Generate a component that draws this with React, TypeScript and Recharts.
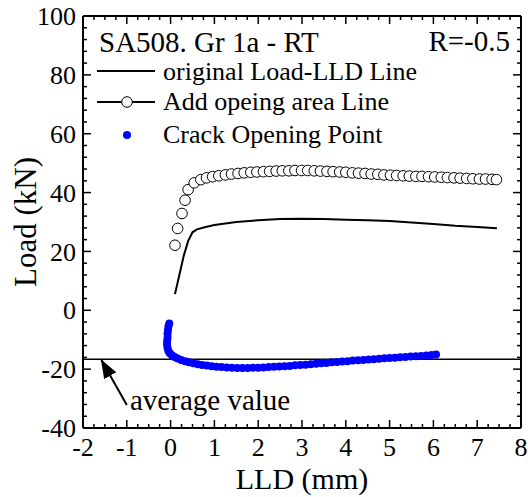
import { ComposedChart, ReferenceLine, Scatter, XAxis, YAxis } from 'recharts'

const FONT = '"Liberation Serif", "Times New Roman", serif'

// original Load-LLD line
const LINE_X = [0.1, 0.2, 0.3, 0.4, 0.5, 0.6, 0.8, 1.0, 1.5, 2.0, 2.5, 3.0, 3.5, 4.0, 4.5, 5.0, 5.5, 6.0, 6.5, 7.0, 7.45]
const LINE_Y = [5.5, 12, 18.5, 23.5, 26.5, 27.5, 28.3, 29, 30, 30.6, 31, 31.1, 31, 30.8, 30.6, 30.3, 29.8, 29.3, 28.7, 28.3, 27.9]

// add opening area line (open circles)
const OPEN_X = [
  0.1, 0.16, 0.26, 0.33, 0.4, 0.54, 0.69, 0.82,
  0.96, 1.1, 1.25, 1.39, 1.54, 1.68, 1.83, 1.97, 2.12, 2.26,
  2.41, 2.55, 2.7, 2.84, 2.99, 3.13, 3.28, 3.42, 3.57, 3.71,
  3.86, 4.0, 4.15, 4.29, 4.44, 4.58, 4.73, 4.87, 5.02, 5.16,
  5.31, 5.45, 5.6, 5.74, 5.89, 6.03, 6.18, 6.32, 6.47, 6.61,
  6.76, 6.9, 7.05, 7.19, 7.34, 7.44,
]
const OPEN_Y = [
  22.1, 27.8, 32.9, 37.4, 41.0, 43.3, 44.4, 45.0,
  45.4, 45.7, 46.0, 46.3, 46.5, 46.7, 46.9, 47.0, 47.1, 47.2,
  47.3, 47.4, 47.4, 47.5, 47.5, 47.5, 47.4, 47.3, 47.2, 47.1,
  47.0, 46.9, 46.7, 46.6, 46.5, 46.3, 46.2, 46.0, 45.9, 45.8,
  45.7, 45.6, 45.5, 45.5, 45.4, 45.3, 45.2, 45.1, 45.0, 44.9,
  44.8, 44.7, 44.6, 44.6, 44.5, 44.4,
]

// crack opening points
const CRACK_X = [
  -0.03, -0.05, -0.06, -0.07, -0.07, -0.08, -0.08, -0.07, -0.05, -0.02,
  0.03, 0.09, 0.16, 0.24, 0.33, 0.42, 0.52, 0.62, 0.72, 0.83,
  0.94, 1.05, 1.16, 1.28, 1.4, 1.52, 1.64, 1.76, 1.88, 2.0,
  2.12, 2.24, 2.36, 2.48, 2.6, 2.72, 2.84, 2.96, 3.08, 3.2,
  3.32, 3.44, 3.56, 3.68, 3.8, 3.92, 4.04, 4.16, 4.28, 4.4,
  4.52, 4.64, 4.76, 4.88, 5.0, 5.12, 5.24, 5.36, 5.48, 5.6,
  5.72, 5.84, 5.96, 6.06,
]
const CRACK_Y = [
  -4.5, -5.5, -6.8, -8.0, -9.3, -10.5, -11.7, -12.8, -13.8, -14.6,
  -15.3, -15.9, -16.4, -16.9, -17.3, -17.7, -18.0, -18.3, -18.6, -18.8,
  -19.0, -19.2, -19.3, -19.4, -19.5, -19.6, -19.6, -19.6, -19.5, -19.5,
  -19.4, -19.3, -19.2, -19.1, -19.0, -18.9, -18.7, -18.6, -18.5, -18.3,
  -18.2, -18.0, -17.9, -17.7, -17.6, -17.4, -17.3, -17.1, -17.0, -16.9,
  -16.7, -16.6, -16.5, -16.3, -16.2, -16.1, -16.0, -15.9, -15.7, -15.6,
  -15.5, -15.4, -15.2, -15.0,
]

const AVERAGE = -16.6

const X_DOMAIN = [-2, 8]
const Y_DOMAIN = [-40, 100]
// minor ticks every 0.25 on x, every 4 on y; labels on the integers / multiples of 20
const X_TICKS = Array.from({ length: 41 }, (_, i) => -2 + i * 0.25)
const Y_TICKS = Array.from({ length: 36 }, (_, i) => -40 + i * 4)

const lineData = LINE_X.map((x, i) => ({ x, y: LINE_Y[i] }))
const openData = OPEN_X.map((x, i) => ({ x, y: OPEN_Y[i] }))
const crackData = CRACK_X.map((x, i) => ({ x, y: CRACK_Y[i] }))

const isMajorX = (v: number) => Number.isInteger(v)
const isMajorY = (v: number) => v % 20 === 0

function BottomTick({ x, y, payload }: any) {
  const v = payload.value
  const major = isMajorX(v)
  return (
    <g>
      <line x1={x} y1={y} x2={x} y2={y - (major ? 8 : 4)} stroke="#000" strokeWidth={1.5} />
      {major && (
        <text x={x} y={y + 28} textAnchor="middle" fontSize={26} fontFamily={FONT} fill="#000">
          {v}
        </text>
      )}
    </g>
  )
}

function TopTick({ x, y, payload }: any) {
  const major = isMajorX(payload.value)
  return <line x1={x} y1={y} x2={x} y2={y + (major ? 8 : 4)} stroke="#000" strokeWidth={1.5} />
}

function LeftTick({ x, y, payload }: any) {
  const v = payload.value
  const major = isMajorY(v)
  return (
    <g>
      <line x1={x} y1={y} x2={x + (major ? 8 : 4)} y2={y} stroke="#000" strokeWidth={1.5} />
      {major && (
        <text x={x - 7} y={y} dy="0.35em" textAnchor="end" fontSize={26} fontFamily={FONT} fill="#000">
          {v}
        </text>
      )}
    </g>
  )
}

function RightTick({ x, y, payload }: any) {
  const major = isMajorY(payload.value)
  return <line x1={x} y1={y} x2={x - (major ? 8 : 4)} y2={y} stroke="#000" strokeWidth={1.5} />
}

const noMark = () => <g />

const openCircle = (props: any) => (
  <circle cx={props.cx} cy={props.cy} r={5.3} fill="#fff" stroke="#000" strokeWidth={1} />
)

const blueDot = (props: any) => <circle cx={props.cx} cy={props.cy} r={4} fill="#0000ff" />

export default function App() {
  return (
    <>
      <style>{'body{margin:0}'}</style>
      <ComposedChart
        width={528}
        height={497}
        margin={{ top: 15, right: 6, bottom: 68, left: 82 }}
        style={{ fontFamily: FONT }}
      >
        <defs>
          <marker
            id="arrowHead"
            markerUnits="userSpaceOnUse"
            markerWidth={19}
            markerHeight={14}
            refX={18}
            refY={7}
            orient="auto"
          >
            <path d="M0,0 L19,7 L0,14 Z" fill="#000" />
          </marker>
        </defs>
        <XAxis
          xAxisId={0}
          type="number"
          dataKey="x"
          domain={X_DOMAIN}
          ticks={X_TICKS}
          interval={0}
          height={1}
          tickSize={0}
          tickMargin={0}
          tickLine={false}
          tick={<BottomTick />}
          axisLine={{ stroke: '#000', strokeWidth: 2 }}
          allowDataOverflow
        />
        <XAxis
          xAxisId="top"
          orientation="top"
          type="number"
          dataKey="x"
          domain={X_DOMAIN}
          ticks={X_TICKS}
          interval={0}
          height={1}
          tickSize={0}
          tickMargin={0}
          tickLine={false}
          tick={<TopTick />}
          axisLine={{ stroke: '#000', strokeWidth: 2 }}
          allowDataOverflow
        />
        <YAxis
          yAxisId={0}
          type="number"
          dataKey="y"
          domain={Y_DOMAIN}
          ticks={Y_TICKS}
          interval={0}
          width={1}
          tickSize={0}
          tickMargin={0}
          tickLine={false}
          tick={<LeftTick />}
          axisLine={{ stroke: '#000', strokeWidth: 2 }}
          allowDataOverflow
        />
        <YAxis
          yAxisId="right"
          orientation="right"
          type="number"
          dataKey="y"
          domain={Y_DOMAIN}
          ticks={Y_TICKS}
          interval={0}
          width={1}
          tickSize={0}
          tickMargin={0}
          tickLine={false}
          tick={<RightTick />}
          axisLine={{ stroke: '#000', strokeWidth: 2 }}
          allowDataOverflow
        />

        <Scatter
          data={lineData}
          line={{ stroke: '#000', strokeWidth: 2 }}
          shape={noMark}
          isAnimationActive={false}
        />
        <Scatter data={openData} shape={openCircle} isAnimationActive={false} />
        <Scatter data={crackData} shape={blueDot} isAnimationActive={false} />

        <ReferenceLine y={AVERAGE} stroke="#000" strokeWidth={1.5} />
        <ReferenceLine
          segment={[
            { x: -1.0, y: -32.2 },
            { x: -1.58, y: -16.9 },
          ]}
          stroke="#000"
          strokeWidth={2}
          markerEnd="url(#arrowHead)"
        />

        {/* axis titles */}
        <text x={302} y={489} textAnchor="middle" fontSize={30} fontFamily={FONT} fill="#000">
          LLD (mm)
        </text>
        <text
          x={0}
          y={0}
          transform="translate(36,222) rotate(-90)"
          textAnchor="middle"
          fontSize={31}
          fontFamily={FONT}
          fill="#000"
        >
          Load (kN)
        </text>

        {/* header and legend */}
        <text x={99} y={52} fontSize={29} fontFamily={FONT} fill="#000">
          SA508. Gr 1a - RT
        </text>
        <text x={510} y={51} textAnchor="end" fontSize={29} fontFamily={FONT} fill="#000">
          R=-0.5
        </text>

        <line x1={97} y1={71} x2={155} y2={71} stroke="#000" strokeWidth={2} />
        <text x={163} y={80} fontSize={26} fontFamily={FONT} fill="#000">
          original Load-LLD Line
        </text>

        <line x1={97} y1={102} x2={155} y2={102} stroke="#000" strokeWidth={2} />
        <circle cx={127} cy={102} r={5.3} fill="#fff" stroke="#000" strokeWidth={1} />
        <text x={163} y={110} fontSize={26} fontFamily={FONT} fill="#000">
          Add opeing area Line
        </text>

        <circle cx={127} cy={135} r={4} fill="#0000ff" />
        <text x={163} y={143} fontSize={26} fontFamily={FONT} fill="#000">
          Crack Opening Point
        </text>

        <text x={130} y={410} fontSize={29} fontFamily={FONT} fill="#000">
          average value
        </text>
      </ComposedChart>
    </>
  )
}
